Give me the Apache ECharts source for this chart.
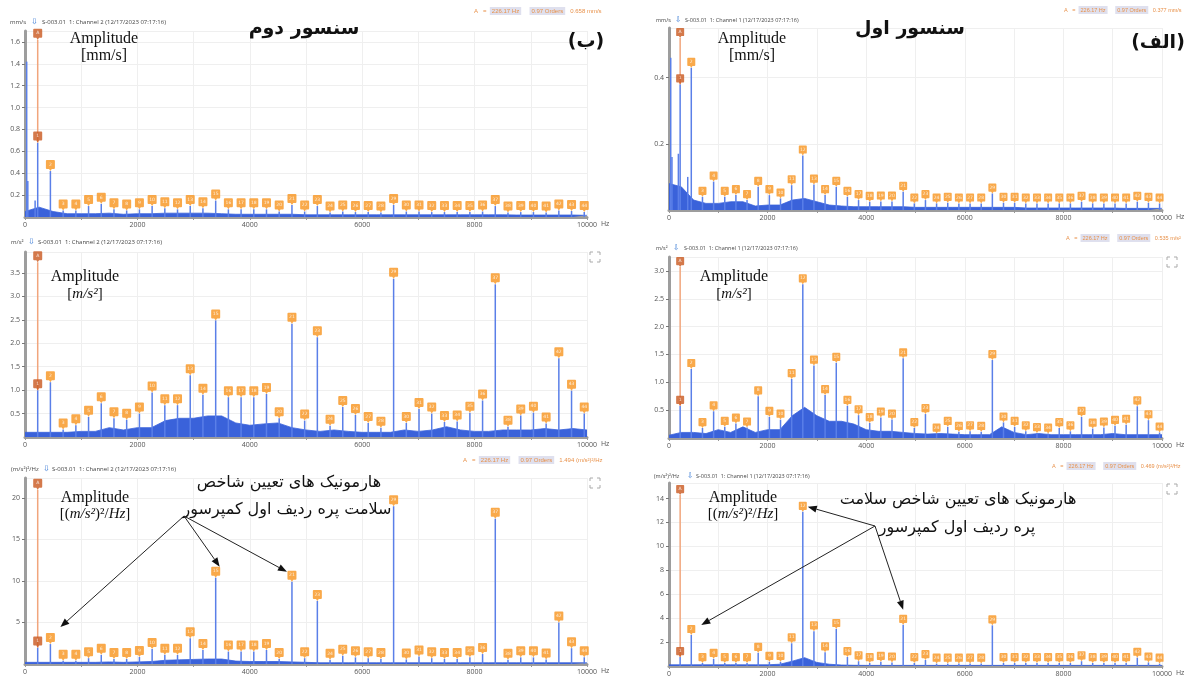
<!DOCTYPE html>
<html>
<head>
<meta charset="utf-8">
<script src="https://cdn.jsdelivr.net/npm/echarts@6/dist/echarts.min.js"></script>
<style>
  html, body { margin: 0; padding: 0; background: #fff; }
  #chart { width: 1186px; height: 680px; }
</style>
</head>
<body>
<div id="chart"></div>
<script>
// harmonic orders of 226.17 Hz (markers 1..44)
const harmonicHz = [226, 452, 679, 905, 1131, 1357, 1583, 1809, 2036, 2262, 2488, 2714, 2940, 3166, 3393,
  3619, 3845, 4071, 4297, 4523, 4750, 4976, 5202, 5428, 5654, 5880, 6107, 6333, 6559, 6785, 7011, 7237,
  7464, 7690, 7916, 8142, 8368, 8594, 8821, 9047, 9273, 9499, 9725, 9951];
const floorHz = [0, 250, 500, 750, 1000, 1250, 1500, 1750, 2000, 2250, 2500, 2750, 3000, 3250, 3500, 3750,
  4000, 4250, 4500, 4750, 5000, 5250, 5500, 5750, 6000, 6250, 6500, 6750, 7000, 7250, 7500, 7750, 8000,
  8250, 8500, 8750, 9000, 9250, 9500, 9750, 10000];
const cursorHz = 226.17;

// sensor 2 (left column)
const velPeaks2 = [0.68, 0.42, 0.06, 0.06, 0.10, 0.12, 0.07, 0.06, 0.07, 0.10, 0.08, 0.07, 0.10, 0.08, 0.15,
  0.07, 0.07, 0.07, 0.07, 0.05, 0.11, 0.05, 0.10, 0.04, 0.05, 0.045, 0.045, 0.04, 0.11, 0.05, 0.05, 0.045,
  0.045, 0.045, 0.045, 0.05, 0.10, 0.04, 0.045, 0.045, 0.04, 0.06, 0.055, 0.045];
const velFloor2 = [0.05, 0.09, 0.05, 0.03, 0.03, 0.03, 0.035, 0.025, 0.03, 0.03, 0.035, 0.035, 0.035, 0.035,
  0.03, 0.025, 0.025, 0.025, 0.025, 0.025, 0.02, 0.02, 0.02, 0.02, 0.02, 0.02, 0.02, 0.02, 0.02, 0.02, 0.02,
  0.02, 0.02, 0.02, 0.02, 0.018, 0.018, 0.018, 0.018, 0.018, 0.015];
const velExtra2 = [[30, 1.42], [50, 0.33], [180, 0.15]];

const accPeaks2 = [1.0, 1.17, 0.16, 0.25, 0.43, 0.72, 0.40, 0.37, 0.50, 0.95, 0.68, 0.68, 1.32, 0.90, 2.49,
  0.85, 0.85, 0.85, 0.92, 0.40, 2.42, 0.35, 2.13, 0.24, 0.64, 0.47, 0.30, 0.20, 3.38, 0.30, 0.60, 0.50, 0.32,
  0.33, 0.52, 0.78, 3.26, 0.22, 0.46, 0.52, 0.29, 1.68, 0.99, 0.50];
const accFloor2 = [0.1, 0.1, 0.1, 0.1, 0.12, 0.12, 0.2, 0.15, 0.2, 0.2, 0.35, 0.4, 0.4, 0.45, 0.45, 0.3, 0.25,
  0.28, 0.3, 0.2, 0.15, 0.12, 0.15, 0.12, 0.1, 0.1, 0.1, 0.15, 0.12, 0.15, 0.22, 0.15, 0.12, 0.12, 0.15, 0.15,
  0.15, 0.18, 0.15, 0.18, 0.15];

const psdPeaks2 = [2.0, 2.4, 0.4, 0.4, 0.7, 1.1, 0.6, 0.6, 0.85, 1.8, 1.1, 1.1, 3.1, 1.7, 10.4, 1.5, 1.5, 1.5,
  1.7, 0.6, 9.9, 0.7, 7.6, 0.5, 1.0, 0.8, 0.7, 0.6, 19.0, 0.55, 0.9, 0.7, 0.6, 0.6, 0.8, 1.2, 17.5, 0.5, 0.8,
  0.8, 0.55, 5.0, 1.9, 0.8];
const psdFloor2 = [0.2, 0.2, 0.2, 0.2, 0.2, 0.2, 0.25, 0.2, 0.25, 0.3, 0.45, 0.5, 0.55, 0.6, 0.6, 0.35, 0.3,
  0.3, 0.3, 0.25, 0.2, 0.15, 0.15, 0.15, 0.15, 0.15, 0.15, 0.15, 0.15, 0.15, 0.15, 0.15, 0.15, 0.15, 0.15,
  0.15, 0.15, 0.15, 0.15, 0.15, 0.15];

// sensor 1 (right column)
const velPeaks1 = [0.38, 0.43, 0.04, 0.086, 0.04, 0.045, 0.03, 0.07, 0.045, 0.035, 0.075, 0.165, 0.077, 0.045,
  0.07, 0.04, 0.03, 0.025, 0.026, 0.026, 0.055, 0.02, 0.03, 0.02, 0.022, 0.02, 0.02, 0.02, 0.05, 0.022, 0.022,
  0.02, 0.02, 0.02, 0.02, 0.02, 0.025, 0.02, 0.02, 0.02, 0.02, 0.025, 0.022, 0.02];
const velFloor1 = [0.08, 0.07, 0.03, 0.02, 0.02, 0.025, 0.025, 0.012, 0.015, 0.015, 0.03, 0.035, 0.025, 0.015,
  0.012, 0.01, 0.01, 0.01, 0.01, 0.01, 0.008, 0.008, 0.008, 0.008, 0.008, 0.008, 0.008, 0.008, 0.008, 0.006,
  0.006, 0.006, 0.006, 0.006, 0.006, 0.006, 0.006, 0.005, 0.005, 0.005, 0.005];
const velExtra1 = [[35, 0.46], [60, 0.16], [190, 0.17], [380, 0.1]];

const accPeaks1 = [0.58, 1.24, 0.18, 0.48, 0.20, 0.26, 0.19, 0.75, 0.38, 0.33, 1.06, 2.76, 1.30, 0.77, 1.35,
  0.58, 0.41, 0.27, 0.37, 0.33, 1.43, 0.18, 0.43, 0.08, 0.20, 0.11, 0.12, 0.11, 1.40, 0.28, 0.20, 0.12, 0.09,
  0.08, 0.18, 0.12, 0.38, 0.17, 0.19, 0.22, 0.24, 0.57, 0.32, 0.10];
const accFloor1 = [0.05, 0.1, 0.1, 0.08, 0.15, 0.1, 0.2, 0.1, 0.15, 0.15, 0.4, 0.55, 0.4, 0.3, 0.3, 0.25, 0.15,
  0.12, 0.12, 0.1, 0.08, 0.07, 0.08, 0.07, 0.06, 0.06, 0.06, 0.2, 0.1, 0.06, 0.08, 0.06, 0.06, 0.06, 0.06,
  0.06, 0.08, 0.06, 0.06, 0.06, 0.06];

const psdPeaks1 = [0.75, 2.6, 0.25, 0.6, 0.25, 0.25, 0.25, 1.1, 0.35, 0.35, 1.9, 12.9, 2.9, 1.15, 3.1, 0.75,
  0.4, 0.25, 0.35, 0.3, 3.45, 0.25, 0.5, 0.2, 0.2, 0.2, 0.2, 0.2, 3.4, 0.25, 0.25, 0.25, 0.25, 0.25, 0.25,
  0.25, 0.4, 0.25, 0.25, 0.25, 0.25, 0.7, 0.3, 0.2];
const psdFloor1 = [0.1, 0.1, 0.1, 0.1, 0.1, 0.1, 0.1, 0.1, 0.1, 0.15, 0.4, 0.7, 0.3, 0.15, 0.08, 0.06, 0.05,
  0.05, 0.05, 0.05, 0.05, 0.05, 0.05, 0.05, 0.05, 0.05, 0.05, 0.05, 0.05, 0.05, 0.05, 0.05, 0.05, 0.05, 0.05,
  0.05, 0.05, 0.05, 0.05, 0.05, 0.05];

const panels = [
  { grid: { left: 25, top: 31, width: 562, height: 186 }, max: 1.7, interval: 0.2, dec: 1, peaks: velPeaks2, floor: velFloor2, extra: velExtra2, aTop: 1.62, pin: [9, 11] },
  { grid: { left: 25, top: 252, width: 562, height: 185 }, max: 3.95, interval: 0.5, dec: 1, peaks: accPeaks2, floor: accFloor2, extra: [], aTop: 3.73, pin: [9, 11] },
  { grid: { left: 25, top: 478, width: 562, height: 186 }, max: 22.4, interval: 5, dec: 0, peaks: psdPeaks2, floor: psdFloor2, extra: [], aTop: 21.0, pin: [9, 11] },
  { grid: { left: 669, top: 28, width: 493, height: 182 }, max: 0.55, interval: 0.2, dec: 1, peaks: velPeaks1, floor: velFloor1, extra: velExtra1, aTop: 0.52, pin: [8, 10] },
  { grid: { left: 669, top: 257, width: 493, height: 181 }, max: 3.25, interval: 0.5, dec: 1, peaks: accPeaks1, floor: accFloor1, extra: [], aTop: 3.07, pin: [8, 10] },
  { grid: { left: 669, top: 483, width: 493, height: 183 }, max: 15.3, interval: 2, dec: 0, peaks: psdPeaks1, floor: psdFloor1, extra: [], aTop: 14.3, pin: [8, 10] }
];

const blue = '#3a62da';
const pinPath = 'path://M1,0 H9 Q10,0 10,1 V8 Q10,9 9,9 H6.5 L5,11 L3.5,9 H1 Q0,9 0,8 V1 Q0,0 1,0 Z';
const chart = echarts.init(document.getElementById('chart'));

const grid = [], xAxis = [], yAxis = [], series = [];
panels.forEach((p, i) => {
  grid.push(p.grid);
  xAxis.push({
    type: 'value', gridIndex: i, min: 0, max: 10000, interval: 1000,
    name: 'Hz', nameLocation: 'end', nameGap: 8,
    nameTextStyle: { fontSize: 7, color: '#555', verticalAlign: 'top', padding: [3, 0, 0, 0] },
    axisLine: { lineStyle: { color: '#9d9d9d', width: 3 } },
    axisTick: { show: true, length: 3, lineStyle: { color: '#999' } },
    axisLabel: { fontSize: 7, color: '#555', margin: 4, formatter: v => (v % 2000 ? '' : v) },
    splitLine: { lineStyle: { color: '#efefef' } }
  });
  yAxis.push({
    type: 'value', gridIndex: i, min: 0, max: p.max, interval: p.interval,
    axisLine: { show: true, lineStyle: { color: '#9d9d9d', width: 3 } },
    axisTick: { show: true, length: 3, lineStyle: { color: '#777' } },
    axisLabel: { fontSize: 7, color: '#555', margin: 5, showMinLabel: false, showMaxLabel: false,
      formatter: v => v.toFixed(p.dec) },
    splitLine: { lineStyle: { color: '#efefef' } }
  });
  series.push({
    type: 'line', xAxisIndex: i, yAxisIndex: i, silent: true, symbol: 'none', z: 2,
    data: floorHz.map((f, j) => [f, p.floor[j]]),
    lineStyle: { color: blue, width: 0.8 },
    areaStyle: { color: blue, opacity: 1 }
  });
  series.push({
    type: 'bar', xAxisIndex: i, yAxisIndex: i, silent: true, barWidth: 1.5, z: 3,
    data: harmonicHz.map((f, j) => [f, p.peaks[j]]).concat(p.extra),
    itemStyle: { color: '#5a7fe8' }
  });
  series.push({
    type: 'line', xAxisIndex: i, yAxisIndex: i, silent: true, symbol: 'none', z: 4,
    data: [[cursorHz, p.peaks[0]], [cursorHz, p.aTop]],
    lineStyle: { color: '#f1a57c', width: 1.5 }
  });
  const marks = harmonicHz.map((f, j) => ({
    value: [f, p.peaks[j], String(j + 1)],
    itemStyle: { color: j === 0 ? '#c9581e' : '#f7941d' }
  }));
  marks.push({ value: [cursorHz, p.aTop, 'A'], itemStyle: { color: '#c9581e' } });
  series.push({
    type: 'scatter', xAxisIndex: i, yAxisIndex: i, silent: true, z: 6,
    symbol: pinPath, symbolSize: p.pin, symbolOffset: [0, '-50%'],
    data: marks,
    label: { show: true, position: 'inside', offset: [0, -1], fontSize: 4.5, color: '#fff',
      fontFamily: 'DejaVu Sans', formatter: q => q.value[2] }
  });
});

function header(x, y, unit, iconX, textX, chan, size) {
  return [
    { type: 'text', x: x, y: y, style: { text: unit, fontSize: size, fill: '#444', fontFamily: 'Open Sans', verticalAlign: 'middle' } },
    { type: 'text', x: iconX, y: y, style: { text: '⇩', fontSize: size + 2, fill: '#3a7bd5', fontFamily: 'DejaVu Sans', verticalAlign: 'middle' } },
    { type: 'text', x: textX, y: y, style: { text: 'S-003.01  1: Channel ' + chan + ' (12/17/2023 07:17:16)', fontSize: size, fill: '#444', fontFamily: 'Open Sans', verticalAlign: 'middle' } }
  ];
}
function cursorInfo(x, y, val, size) {
  return {
    type: 'text', x: x, y: y,
    style: {
      text: '{o|A   =  }{b|226.17 Hz}{o|     }{b|0.97 Orders}{o|   ' + val + '}',
      fontFamily: 'Open Sans', verticalAlign: 'middle',
      rich: {
        o: { fontSize: size, fill: '#e8914a' },
        b: { fontSize: size, fill: '#e8914a', backgroundColor: '#dfe0ee', padding: [1, 2] }
      }
    }
  };
}
function expandIcon(x, y) {
  const s = { stroke: '#aaa', lineWidth: 1, fill: null };
  return {
    type: 'group', x: x, y: y, children: [
      { type: 'polyline', shape: { points: [[0, 3], [0, 0], [3, 0]] }, style: s },
      { type: 'polyline', shape: { points: [[7, 0], [10, 0], [10, 3]] }, style: s },
      { type: 'polyline', shape: { points: [[0, 7], [0, 10], [3, 10]] }, style: s },
      { type: 'polyline', shape: { points: [[7, 10], [10, 10], [10, 7]] }, style: s }
    ]
  };
}
function label(x, y, text, size, opts) {
  return { type: 'text', x: x, y: y, z: 20, style: Object.assign({ text: text, fontSize: size, fill: '#111', align: 'center', verticalAlign: 'middle', lineHeight: size * 1.6 }, opts || {}) };
}
const serif = 'Liberation Serif';
const ampRich = { i: { fontStyle: 'italic', fontSize: 15, fontFamily: serif, fill: '#111' } };

const staticGraphic = [].concat(
  header(10, 22, 'mm/s', 31, 42, 2, 6),
  header(11, 242, 'm/s²', 28, 38, 2, 6),
  header(11, 469, '(m/s²)²/Hz', 43, 52, 2, 6),
  header(656, 20, 'mm/s', 675, 685, 1, 5.5),
  header(656, 248, 'm/s²', 673, 684, 1, 5.5),
  header(654, 476, '(m/s²)²/Hz', 687, 696, 1, 5.5),
  [
    cursorInfo(474, 11, '0.658 mm/s', 6),
    cursorInfo(463, 460, '1.494 (m/s²)²/Hz', 6),
    cursorInfo(1064, 10, '0.377 mm/s', 5.5),
    cursorInfo(1066, 238, '0.535 m/s²', 5.5),
    cursorInfo(1052, 466, '0.469 (m/s²)²/Hz', 5.5),
    expandIcon(590, 252), expandIcon(590, 478), expandIcon(1167, 257), expandIcon(1167, 484),
    label(304, 29, 'سنسور دوم', 19, { fontWeight: 'bold', fontFamily: 'DejaVu Sans' }),
    label(586, 42, '(ب)', 19, { fontWeight: 'bold', fontFamily: 'DejaVu Sans' }),
    label(910, 29, 'سنسور اول', 19, { fontWeight: 'bold', fontFamily: 'DejaVu Sans' }),
    label(1158, 43, '(الف)', 19, { fontWeight: 'bold', fontFamily: 'DejaVu Sans' }),
    label(104, 39, 'Amplitude', 16, { fontFamily: serif }),
    label(104, 56, '[mm/s]', 16, { fontFamily: serif }),
    label(752, 39, 'Amplitude', 16, { fontFamily: serif }),
    label(752, 56, '[mm/s]', 16, { fontFamily: serif }),
    label(85, 277, 'Amplitude', 16, { fontFamily: serif }),
    label(85, 294, '[{i|m/s²}]', 15, { fontFamily: serif, rich: ampRich }),
    label(734, 277, 'Amplitude', 16, { fontFamily: serif }),
    label(734, 294, '[{i|m/s²}]', 15, { fontFamily: serif, rich: ampRich }),
    label(95, 498, 'Amplitude', 16, { fontFamily: serif }),
    label(95, 514, '[({i|m/s²})²/{i|Hz}]', 15, { fontFamily: serif, rich: ampRich }),
    label(743, 498, 'Amplitude', 16, { fontFamily: serif }),
    label(743, 514, '[({i|m/s²})²/{i|Hz}]', 15, { fontFamily: serif, rich: ampRich }),
    label(289, 483, 'هارمونیک های تعیین شاخص', 16, { fontFamily: 'DejaVu Sans' }),
    label(287, 510, 'سلامت پره ردیف اول کمپرسور', 16, { fontFamily: 'DejaVu Sans' }),
    label(958, 500, 'هارمونیک های تعیین شاخص سلامت', 16, { fontFamily: 'DejaVu Sans' }),
    label(957, 528, 'پره ردیف اول کمپرسور', 16, { fontFamily: 'DejaVu Sans' })
  ]
);

chart.setOption({
  animation: false,
  backgroundColor: '#fff',
  textStyle: { fontFamily: 'Open Sans' },
  grid: grid, xAxis: xAxis, yAxis: yAxis, series: series,
  graphic: staticGraphic
});

// annotation arrows pointing to marker tops, placed through the chart's scales
function arrow(from, to) {
  const dx = to[0] - from[0], dy = to[1] - from[1];
  const len = Math.sqrt(dx * dx + dy * dy), ux = dx / len, uy = dy / len;
  const bx = to[0] - ux * 9, by = to[1] - uy * 9;
  return [
    { type: 'line', z: 20, shape: { x1: from[0], y1: from[1], x2: bx, y2: by }, style: { stroke: '#222', lineWidth: 1 } },
    { type: 'polygon', z: 20, shape: { points: [to, [bx - uy * 3.5, by + ux * 3.5], [bx + uy * 3.5, by - ux * 3.5]] }, style: { fill: '#111' } }
  ];
}
function at(g, k, peaks, ox, oy) {
  const p = chart.convertToPixel({ gridIndex: g }, [harmonicHz[k], peaks[k]]);
  return [p[0] + ox, p[1] + oy];
}
const arrows = [].concat(
  arrow([184, 516], at(2, 1, psdPeaks2, 10, -17)),
  arrow([184, 516], at(2, 14, psdPeaks2, 4, -11)),
  arrow([184, 516], at(2, 20, psdPeaks2, -5, -10)),
  arrow([875, 526], at(5, 11, psdPeaks1, 5, -5)),
  arrow([875, 526], at(5, 1, psdPeaks1, 10, -10)),
  arrow([875, 526], at(5, 20, psdPeaks1, 0, -15))
);
chart.setOption({ graphic: staticGraphic.concat(arrows) }, { replaceMerge: ['graphic'] });

window.addEventListener('resize', () => chart.resize());
</script>
</body>
</html>
